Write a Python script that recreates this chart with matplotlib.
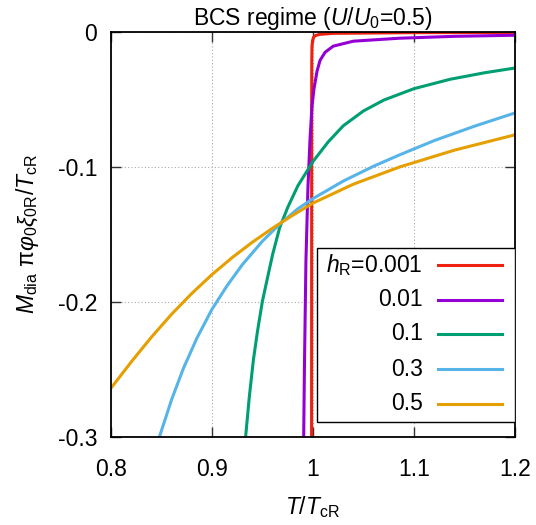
import matplotlib
matplotlib.use('Agg')
import matplotlib.pyplot as plt
from matplotlib.patches import Rectangle

plt.rcParams['font.family'] = ['Liberation Sans', 'DejaVu Sans']
plt.rcParams['mathtext.fontset'] = 'custom'
plt.rcParams['mathtext.rm'] = 'Liberation Sans'
plt.rcParams['mathtext.it'] = 'Liberation Sans:italic'
plt.rcParams['mathtext.bf'] = 'Liberation Sans:bold'

# Data (T/T_cR, M_dia * pi phi0 xi0R / T_cR)
labels = ['0.001', '0.01', '0.1', '0.3', '0.5']
colors = ['#ee2010', '#9400d3', '#009e73', '#56b4e9', '#e69f00']

t_001 = [0.9986, 0.9987, 0.9988, 0.9990, 0.9995, 1.0005, 1.002, 1.006, 1.02, 1.1, 1.2]
m_001 = [-0.32, -0.05, -0.02, -0.011, -0.0065, -0.004, -0.0028, -0.0018, -0.001, -0.0005, -0.0003]

t_01 = [0.9905, 0.9915, 0.993, 0.995, 0.997, 0.999, 1.001, 1.004, 1.007, 1.012, 1.02, 1.04,
        1.086, 1.14, 1.2]
m_01 = [-0.32, -0.25, -0.17, -0.115, -0.08, -0.055, -0.042, -0.029, -0.021, -0.015, -0.0105,
        -0.0068, -0.0046, -0.0032, -0.0024]

t_1 = [0.9325, 0.9333, 0.937, 0.941, 0.945, 0.9498, 0.955, 0.96, 0.967, 0.975, 0.985, 1.0,
       1.015, 1.03, 1.05, 1.07, 1.1, 1.136, 1.17, 1.2]
m_1 = [-0.31, -0.30, -0.27, -0.243, -0.222, -0.2, -0.182, -0.165, -0.145, -0.13, -0.114,
       -0.096, -0.0815, -0.0695, -0.0585, -0.0505, -0.042, -0.035, -0.0302, -0.0267]

t_3 = [0.846, 0.848, 0.86, 0.8716, 0.885, 0.9, 0.915, 0.93, 0.95, 0.967, 0.985, 1.0, 1.03,
       1.06, 1.086, 1.12, 1.16, 1.2]
m_3 = [-0.305, -0.30, -0.2725, -0.2495, -0.227, -0.2055, -0.188, -0.1725, -0.155, -0.1425,
       -0.131, -0.1235, -0.1105, -0.0995, -0.091, -0.0805, -0.0698, -0.060]

t_5 = [0.8, 0.82, 0.84, 0.86, 0.88, 0.9, 0.92, 0.94, 0.96, 0.977, 1.0, 1.04, 1.086, 1.14, 1.2]
m_5 = [-0.264, -0.2446, -0.2262, -0.2092, -0.1938, -0.1798, -0.1672, -0.1558, -0.1454,
       -0.1372, -0.1268, -0.1128, -0.100, -0.0876, -0.0762]

series = [(t_001, m_001), (t_01, m_01), (t_1, m_1), (t_3, m_3), (t_5, m_5)]

fs = 16.5

fig = plt.figure(figsize=(5.36, 5.25), dpi=100)
ax = fig.add_axes([111 / 536, 1 - 436.7 / 525, 404 / 536, 404.7 / 525])

for (t, m), c in zip(series, colors):
    ax.plot(t, m, color=c, linewidth=2.2, solid_joinstyle='round')

ax.set_xlim(0.8, 1.2)
ax.set_ylim(-0.3, 0)
ax.set_xticks([0.8, 0.9, 1.0, 1.1, 1.2])
ax.set_xticklabels(['0.8', '0.9', '1', '1.1', '1.2'])
ax.set_yticks([-0.3, -0.2, -0.1, 0])
ax.set_yticklabels(['-0.3', '-0.2', '-0.1', '0'])
ax.tick_params(direction='in', length=7, width=1, top=True, right=True,
               labelsize=fs, color='#333333')
ax.tick_params(axis='y', pad=10)
ax.tick_params(axis='x', pad=15)
ax.grid(True, linestyle=(0, (1, 2)), color='#aaaaaa', linewidth=0.8)
ax.set_axisbelow(True)
for s in ax.spines.values():
    s.set_linewidth(1.3)

ax.set_title(r'BCS regime ($U$/$U_{0}$=0.5)', fontsize=fs, pad=5)
ax.set_xlabel(r'$T$/$T_{\rm cR}$', fontsize=fs, labelpad=10)
ax.set_ylabel(r'$M_{\rm dia}$ $\mathrm{\pi}\varphi_{0}\xi_{0\rm R}$/$T_{\rm cR}$', fontsize=fs,
              labelpad=12)

# gnuplot-style key: labels right-aligned, line samples on the right
ax.add_patch(Rectangle((0.511, 0.037), 0.489, 0.429, transform=ax.transAxes,
                       facecolor='white', edgecolor='black', linewidth=1.0, zorder=5))
row_y = [0.424, 0.338, 0.254, 0.167, 0.081]
for i, (lab, c) in enumerate(zip(labels, colors)):
    txt = r'$h_{\rm R}$=' + lab if i == 0 else lab
    ax.text(0.772, row_y[i], txt, transform=ax.transAxes, ha='right', va='center',
            fontsize=fs, zorder=6)
    ax.plot([0.809, 0.967], [row_y[i], row_y[i]], transform=ax.transAxes, color=c,
            linewidth=2.2, zorder=6, clip_on=False)

fig.savefig('out.png', dpi=100, facecolor='white')
